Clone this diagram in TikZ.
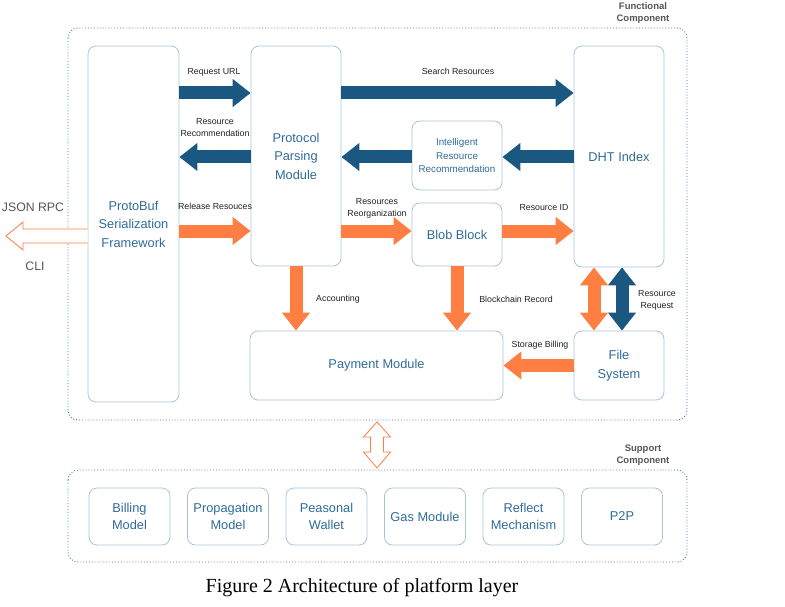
\documentclass[tikz,border=0pt]{standalone}
\usepackage{fontspec}
\setmainfont{Liberation Serif}
\setsansfont{Liberation Sans}
\usetikzlibrary{arrows.meta}
\definecolor{abl}{HTML}{1A5882}
\definecolor{aor}{HTML}{FF7F42}
\definecolor{bdr}{HTML}{A9C4D9}
\definecolor{txb}{HTML}{2F6B9A}
\definecolor{dot}{HTML}{3B77A8}
\definecolor{lbl}{HTML}{222222}
\definecolor{grt}{HTML}{555555}
\tikzset{
  box/.style={draw=bdr, line width=0.8pt, rounded corners=8pt, inner sep=0pt, align=center, text=txb, font=\sffamily\fontsize{12.8}{18.5}\selectfont},
  sbox/.style={box, minimum width=81pt, minimum height=57pt, font=\sffamily\fontsize{12.8}{17}\selectfont},
  outer/.style={draw=dot, line width=0.9pt, dotted, rounded corners=10pt},
  lab/.style={font=\sffamily\fontsize{8.8}{12}\selectfont, text=lbl, align=center, inner sep=0pt},
  grp/.style={font=\sffamily\bfseries\fontsize{9.5}{11.5}\selectfont, text=grt, align=center, inner sep=0pt},
  barrow/.style={draw=abl, line width=13pt, -{Triangle[length=18pt,width=27pt]}},
  oarrow/.style={draw=aor, line width=13pt, -{Triangle[length=18pt,width=27pt]}},
  bdouble/.style={draw=abl, line width=13pt, {Triangle[length=18pt,width=27pt]}-{Triangle[length=18pt,width=27pt]}},
  odouble/.style={draw=aor, line width=13pt, {Triangle[length=18pt,width=27pt]}-{Triangle[length=18pt,width=27pt]}},
  hollow/.style={draw=aor, line width=0.8pt, fill=white, line join=miter}
}
\begin{document}
\begin{tikzpicture}[x=1pt,y=-1pt]
\useasboundingbox (0,0) rectangle (785,607);
% outer groups
\draw[outer] (68,28) rectangle (687,420);
\draw[outer] (68,470) rectangle (687,562);
\node[grp] (gf) at (643,13) {Functional\\Component};
\node[grp] (gs) at (643,455) {Support\\Component};
% main boxes
\node[box, minimum width=91pt, minimum height=356pt] (pb) at (133.5,224) {ProtoBuf\\Serialization\\Framework};
\node[box, minimum width=90pt, minimum height=220pt] (pp) at (296,156) {Protocol\\Parsing\\Module};
\node[box, minimum width=90pt, minimum height=221pt] (dht) at (619,156.5) {DHT Index};
\node[box, minimum width=90pt, minimum height=69pt, font=\sffamily\fontsize{9.8}{13.5}\selectfont] (irr) at (457,155.5) {Intelligent\\Resource\\Recommendation};
\node[box, minimum width=90pt, minimum height=63pt] (bb) at (457,234.5) {Blob Block};
\node[box, minimum width=253pt, minimum height=69pt] (pay) at (376.5,365.5) {Payment Module};
\node[box, minimum width=90pt, minimum height=69pt] (fs) at (619,365.5) {File\\System};
% support boxes
\node[sbox] (s1) at (129.5,516.5) {Billing\\Model};
\node[sbox] (s2) at (228,516.5) {Propagation\\Model};
\node[sbox] (s3) at (326.5,516.5) {Peasonal\\Wallet};
\node[sbox] (s4) at (425,516.5) {Gas Module};
\node[sbox] (s5) at (523.5,516.5) {Reflect\\Mechanism};
\node[sbox] (s6) at (622,516.5) {P2P};
% row / column coordinates
\coordinate (r1) at (0,93);
\coordinate (r2) at (0,157);
\coordinate (r3) at (0,231);
\coordinate (c1) at (594,0);
\coordinate (c2) at (622,0);
% blue arrows
\draw[barrow] (pb.east |- r1) -- (pp.west |- r1);
\draw[barrow] (pp.east |- r1) -- (dht.west |- r1);
\draw[barrow] (pp.west |- r2) -- (pb.east |- r2);
\draw[barrow] (dht.west |- r2) -- (irr.east |- r2);
\draw[barrow] (irr.west |- r2) -- (pp.east |- r2);
% orange arrows
\draw[oarrow] (pb.east |- r3) -- (pp.west |- r3);
\draw[oarrow] (pp.east |- r3) -- (bb.west |- r3);
\draw[oarrow] (bb.east |- r3) -- (dht.west |- r3);
\draw[oarrow] (pp.south) -- (pay.north -| pp.south);
\draw[oarrow] (bb.south) -- (pay.north -| bb.south);
\draw[oarrow] (fs.west) -- (pay.east |- fs.west);
\draw[odouble] (dht.south -| c1) -- (fs.north -| c1);
\draw[bdouble] (dht.south -| c2) -- (fs.north -| c2);
% labels
\node[lab] (l1) at (214,72) {Request URL};
\node[lab] (l2) at (458,71) {Search Resources};
\node[lab] (l3) at (215,127.5) {Resource\\Recommendation};
\node[lab] (l4) at (215,206) {Release Resouces};
\node[lab] (l5) at (377,208) {Resources\\Reorganization};
\node[lab] (l6) at (544,208) {Resource ID};
\node[lab] (l7) at (338,299) {Accounting};
\node[lab] (l8) at (516,299) {Blockchain Record};
\node[lab] (l9) at (657,300) {Resource\\Request};
\node[lab] (l10) at (540,345) {Storage Billing};
% external interface
\coordinate (ext) at (6,236);
\draw[hollow] (pb.west |- {(0,229)}) -- (23,229) -- (23,222) -- (ext) -- (23,250) -- (23,243) -- (pb.west |- {(0,243)});
\node[font=\sffamily\fontsize{12.3}{14}\selectfont, text=grt, inner sep=0pt] (jr) at (33,207) {JSON RPC};
\node[font=\sffamily\fontsize{12.3}{14}\selectfont, text=grt, inner sep=0pt] (cli) at (35,266) {CLI};
% hollow double arrow between groups
\draw[hollow] (377,422) -- (390.5,437) -- (383.5,437) -- (383.5,452) -- (390.5,452) -- (377,468) -- (363.5,452) -- (370.5,452) -- (370.5,437) -- (363.5,437) -- cycle;
% caption
\node[font=\rmfamily\fontsize{20}{22}\selectfont, inner sep=0pt] (cap) at (362,588) {Figure 2 Architecture of platform layer};
\end{tikzpicture}
\end{document}
